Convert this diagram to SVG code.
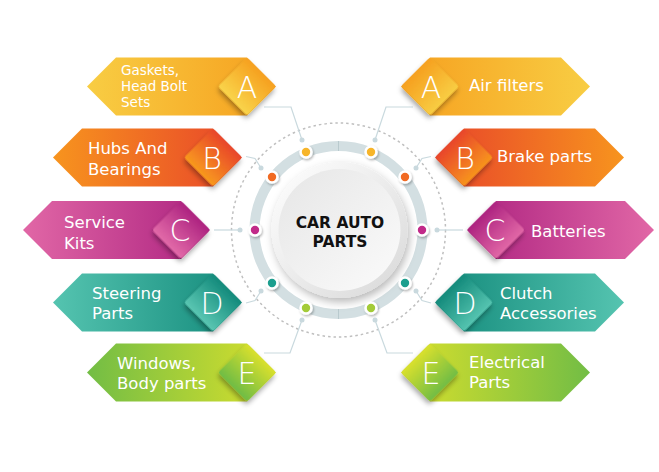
<svg xmlns="http://www.w3.org/2000/svg" width="659" height="472" viewBox="0 0 659 472">
<defs>
<style>
.lbl{font-family:"DejaVu Sans","Open Sans",sans-serif;font-size:16.5px;fill:#fff}
.sm{font-size:13.5px}
.let{font-family:"DejaVu Sans","Open Sans",sans-serif;font-size:30px;font-weight:200;fill:#fff;text-anchor:middle}
.ctr{font-family:"DejaVu Sans","Open Sans",sans-serif;font-size:15.5px;font-weight:700;fill:#111;text-anchor:middle}
.con{fill:none;stroke:#c9d9de;stroke-width:1.2}
.cd{fill:#c9d9de}
.rd{stroke:#fff;stroke-width:2.6;filter:url(#sh2)}
</style>
<filter id="sh" x="-40%" y="-40%" width="180%" height="180%"><feDropShadow dx="2" dy="3" stdDeviation="2.5" flood-color="#000" flood-opacity="0.35"/></filter>
<filter id="sh2" x="-60%" y="-60%" width="220%" height="220%"><feDropShadow dx="1" dy="1.5" stdDeviation="1.2" flood-color="#000" flood-opacity="0.3"/></filter>
<filter id="sh3" x="-30%" y="-30%" width="160%" height="160%"><feDropShadow dx="2" dy="4" stdDeviation="4" flood-color="#000" flood-opacity="0.28"/></filter>
<linearGradient id="Aoi" x1="0" y1="0" x2="1" y2="0"><stop offset="0" stop-color="#f8cd43"/><stop offset="1" stop-color="#f6a01f"/></linearGradient>
<linearGradient id="Aio" x1="0" y1="0" x2="1" y2="0"><stop offset="0" stop-color="#f6a01f"/><stop offset="1" stop-color="#f8cd43"/></linearGradient>
<linearGradient id="Av" x1="0" y1="0" x2="0" y2="1"><stop offset="0" stop-color="#f6a01f"/><stop offset="1" stop-color="#f9d44a"/></linearGradient>
<linearGradient id="Boi" x1="0" y1="0" x2="1" y2="0"><stop offset="0" stop-color="#f7941e"/><stop offset="1" stop-color="#e8452a"/></linearGradient>
<linearGradient id="Bio" x1="0" y1="0" x2="1" y2="0"><stop offset="0" stop-color="#e8452a"/><stop offset="1" stop-color="#f7941e"/></linearGradient>
<linearGradient id="Bv" x1="0" y1="0" x2="0" y2="1"><stop offset="0" stop-color="#e8452a"/><stop offset="1" stop-color="#f8991e"/></linearGradient>
<linearGradient id="Coi" x1="0" y1="0" x2="1" y2="0"><stop offset="0" stop-color="#e167a6"/><stop offset="1" stop-color="#ad2380"/></linearGradient>
<linearGradient id="Cio" x1="0" y1="0" x2="1" y2="0"><stop offset="0" stop-color="#ad2380"/><stop offset="1" stop-color="#e167a6"/></linearGradient>
<linearGradient id="Cv" x1="0" y1="0" x2="0" y2="1"><stop offset="0" stop-color="#ad2380"/><stop offset="1" stop-color="#e26aa8"/></linearGradient>
<linearGradient id="Doi" x1="0" y1="0" x2="1" y2="0"><stop offset="0" stop-color="#55c4b0"/><stop offset="1" stop-color="#138a7b"/></linearGradient>
<linearGradient id="Dio" x1="0" y1="0" x2="1" y2="0"><stop offset="0" stop-color="#138a7b"/><stop offset="1" stop-color="#55c4b0"/></linearGradient>
<linearGradient id="Dv" x1="0" y1="0" x2="0" y2="1"><stop offset="0" stop-color="#138a7b"/><stop offset="1" stop-color="#5ac6b2"/></linearGradient>
<linearGradient id="Eoi" x1="0" y1="0" x2="1" y2="0"><stop offset="0" stop-color="#72bd45"/><stop offset="1" stop-color="#d9e02c"/></linearGradient>
<linearGradient id="Eio" x1="0" y1="0" x2="1" y2="0"><stop offset="0" stop-color="#d9e02c"/><stop offset="1" stop-color="#72bd45"/></linearGradient>
<linearGradient id="Ev" x1="0" y1="0" x2="0" y2="1"><stop offset="0" stop-color="#d9e02c"/><stop offset="1" stop-color="#6fbc45"/></linearGradient>
<linearGradient id="cOut" x1="0" y1="0" x2="1" y2="1"><stop offset="0" stop-color="#ffffff"/><stop offset="1" stop-color="#d8d8d8"/></linearGradient>
<linearGradient id="cIn" x1="0" y1="0" x2="1" y2="1"><stop offset="0" stop-color="#e6e6e6"/><stop offset="1" stop-color="#fbfbfb"/></linearGradient>
</defs>

<rect width="659" height="472" fill="#fff"/>

<g id="hub">
<circle cx="338.5" cy="230" r="107" fill="none" stroke="#bfbfbf" stroke-width="1.5" stroke-dasharray="2.5 3"/>
<circle cx="338.5" cy="230" r="84" fill="none" stroke="#d3dfe2" stroke-width="10"/>
<line x1="338.5" y1="141" x2="338.5" y2="151" stroke="#b9cace" stroke-width="1"/>
<line x1="338.5" y1="309" x2="338.5" y2="319" stroke="#b9cace" stroke-width="1"/>
<circle cx="339.5" cy="230" r="68" fill="url(#cOut)" filter="url(#sh3)"/>
<circle cx="339.5" cy="230" r="61" fill="url(#cIn)"/>
<text class="ctr" x="340" y="228">CAR AUTO</text>
<text class="ctr" x="340" y="247">PARTS</text>
</g>

<g id="connectors">
<polyline class="con" points="264,107 291,107 302,140"/><circle class="cd" cx="302" cy="140" r="2.5"/>
<polyline class="con" points="413,107 386,107 375,140"/><circle class="cd" cx="375" cy="140" r="2.5"/>
<polyline class="con" points="246,156.5 255,158.5 261,168"/><circle class="cd" cx="261" cy="168" r="2.5"/>
<polyline class="con" points="431,156.5 422,158.5 416,168"/><circle class="cd" cx="416" cy="168" r="2.5"/>
<polyline class="con" points="214,230 240,230"/><circle class="cd" cx="240" cy="230" r="2.5"/>
<polyline class="con" points="463,230 437,230"/><circle class="cd" cx="437" cy="230" r="2.5"/>
<polyline class="con" points="246,303 255,300.5 261,291"/><circle class="cd" cx="261" cy="291" r="2.5"/>
<polyline class="con" points="431,303 422,300.5 416,291"/><circle class="cd" cx="416" cy="291" r="2.5"/>
<polyline class="con" points="264,353 290,353 302,320"/><circle class="cd" cx="302" cy="320" r="2.5"/>
<polyline class="con" points="413,353 387,353 375,320"/><circle class="cd" cx="375" cy="320" r="2.5"/>
</g>

<g id="ring-dots">
<circle class="rd" cx="306" cy="152" r="5.5" fill="#f7b52c"/>
<circle class="rd" cx="371" cy="152" r="5.5" fill="#f7b52c"/>
<circle class="rd" cx="272" cy="177" r="5.5" fill="#f16a22"/>
<circle class="rd" cx="405" cy="177" r="5.5" fill="#f16a22"/>
<circle class="rd" cx="255" cy="230" r="5.5" fill="#c12a89"/>
<circle class="rd" cx="422" cy="230" r="5.5" fill="#c12a89"/>
<circle class="rd" cx="272" cy="283" r="5.5" fill="#1b9e8e"/>
<circle class="rd" cx="405" cy="283" r="5.5" fill="#1b9e8e"/>
<circle class="rd" cx="306" cy="308" r="5.5" fill="#a3cb38"/>
<circle class="rd" cx="371" cy="308" r="5.5" fill="#a3cb38"/>
</g>

<g id="left-A">
<polygon points="87,86.5 116,57.5 247,57.5 276,86.5 247,115.5 116,115.5" fill="url(#Aoi)"/>
<rect x="-20.5" y="-20.5" width="41" height="41" rx="3" fill="url(#Av)" transform="translate(247,86.5) rotate(45)" filter="url(#sh)"/>
<text class="let" x="247" y="97.5">A</text>
<text class="lbl sm" x="121" y="74.5">Gaskets,</text>
<text class="lbl sm" x="121" y="90.5">Head Bolt</text>
<text class="lbl sm" x="121" y="106.5">Sets</text>
</g>
<g id="left-B">
<polygon points="53,157.5 82,128.5 213,128.5 242,157.5 213,186.5 82,186.5" fill="url(#Boi)"/>
<rect x="-20.5" y="-20.5" width="41" height="41" rx="3" fill="url(#Bv)" transform="translate(213,157.5) rotate(45)" filter="url(#sh)"/>
<text class="let" x="212" y="168.5">B</text>
<text class="lbl" x="88" y="154">Hubs And</text>
<text class="lbl" x="88" y="174.5">Bearings</text>
</g>
<g id="left-C">
<polygon points="23,230 52,201 181,201 210,230 181,259 52,259" fill="url(#Coi)"/>
<rect x="-20.5" y="-20.5" width="41" height="41" rx="3" fill="url(#Cv)" transform="translate(181,230) rotate(45)" filter="url(#sh)"/>
<text class="let" x="180" y="241">C</text>
<text class="lbl" x="64" y="228">Service</text>
<text class="lbl" x="64" y="248.5">Kits</text>
</g>
<g id="left-D">
<polygon points="53,302.5 82,273.5 213,273.5 242,302.5 213,331.5 82,331.5" fill="url(#Doi)"/>
<rect x="-20.5" y="-20.5" width="41" height="41" rx="3" fill="url(#Dv)" transform="translate(213,302.5) rotate(45)" filter="url(#sh)"/>
<text class="let" x="212" y="313.5">D</text>
<text class="lbl" x="92" y="298.5">Steering</text>
<text class="lbl" x="92" y="318.5">Parts</text>
</g>
<g id="left-E">
<polygon points="87,372.5 116,343.5 247,343.5 276,372.5 247,401.5 116,401.5" fill="url(#Eoi)"/>
<rect x="-20.5" y="-20.5" width="41" height="41" rx="3" fill="url(#Ev)" transform="translate(247,372.5) rotate(45)" filter="url(#sh)"/>
<text class="let" x="247" y="383.5">E</text>
<text class="lbl" x="117" y="368.5">Windows,</text>
<text class="lbl" x="117" y="388.5">Body parts</text>
</g>

<g id="right-A">
<polygon points="401,86.5 430,57.5 561,57.5 590,86.5 561,115.5 430,115.5" fill="url(#Aio)"/>
<rect x="-20.5" y="-20.5" width="41" height="41" rx="3" fill="url(#Aio)" transform="translate(430,86.5) rotate(45)" filter="url(#sh)"/>
<text class="let" x="431" y="97.5">A</text>
<text class="lbl" x="469" y="91">Air filters</text>
</g>
<g id="right-B">
<polygon points="435,157.5 464,128.5 595,128.5 624,157.5 595,186.5 464,186.5" fill="url(#Bio)"/>
<rect x="-20.5" y="-20.5" width="41" height="41" rx="3" fill="url(#Bio)" transform="translate(464,157.5) rotate(45)" filter="url(#sh)"/>
<text class="let" x="465" y="168.5">B</text>
<text class="lbl" x="497" y="161.5">Brake parts</text>
</g>
<g id="right-C">
<polygon points="467,230 496,201 625,201 654,230 625,259 496,259" fill="url(#Cio)"/>
<rect x="-20.5" y="-20.5" width="41" height="41" rx="3" fill="url(#Cio)" transform="translate(496,230) rotate(45)" filter="url(#sh)"/>
<text class="let" x="495" y="241">C</text>
<text class="lbl" x="531" y="236.5">Batteries</text>
</g>
<g id="right-D">
<polygon points="435,302.5 464,273.5 595,273.5 624,302.5 595,331.5 464,331.5" fill="url(#Dio)"/>
<rect x="-20.5" y="-20.5" width="41" height="41" rx="3" fill="url(#Dio)" transform="translate(464,302.5) rotate(45)" filter="url(#sh)"/>
<text class="let" x="465" y="313.5">D</text>
<text class="lbl" x="500" y="298.5">Clutch</text>
<text class="lbl" x="500" y="318.5">Accessories</text>
</g>
<g id="right-E">
<polygon points="401,372.5 430,343.5 561,343.5 590,372.5 561,401.5 430,401.5" fill="url(#Eio)"/>
<rect x="-20.5" y="-20.5" width="41" height="41" rx="3" fill="url(#Eio)" transform="translate(430,372.5) rotate(45)" filter="url(#sh)"/>
<text class="let" x="431" y="383.5">E</text>
<text class="lbl" x="469" y="367.5">Electrical</text>
<text class="lbl" x="469" y="387.5">Parts</text>
</g>
</svg>
